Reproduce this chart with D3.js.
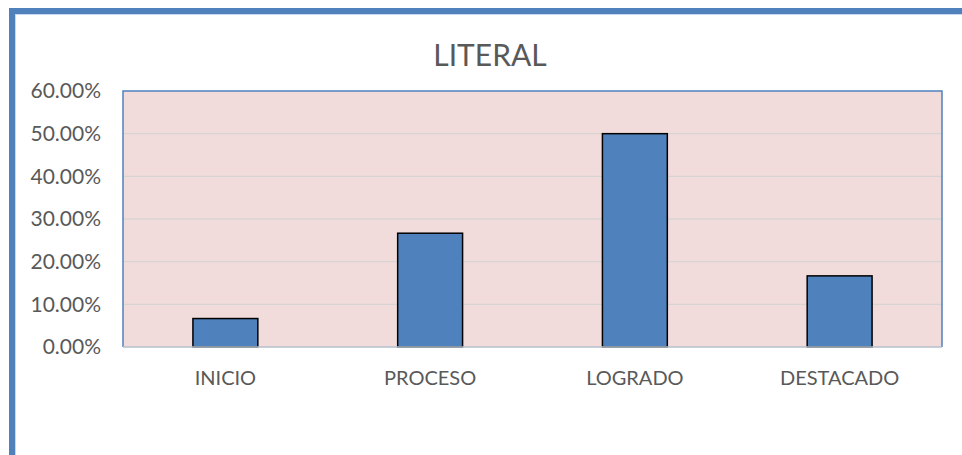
<!DOCTYPE html>
<html>
<head>
<meta charset="utf-8">
<script src="https://cdn.jsdelivr.net/npm/d3@7"></script>
<style>
  html, body { margin: 0; padding: 0; background: #fff; }
  svg { display: block; font-family: Lato, "Open Sans", sans-serif; }
</style>
</head>
<body>
<div id="chart"></div>
<script>
const WIDTH = 962;
const HEIGHT = 455;

const categories = ["INICIO", "PROCESO", "LOGRADO", "DESTACADO"];
const values = [0.0667, 0.2667, 0.5, 0.1667];
const yTicks = [0, 0.1, 0.2, 0.3, 0.4, 0.5, 0.6];
const chartTitle = "LITERAL";

const plot = { left: 123, right: 942, top: 91, bottom: 347 };

const svg = d3.select("#chart")
  .append("svg")
  .attr("width", WIDTH)
  .attr("height", HEIGHT);

// outer frame, runs off the right and bottom edges
svg.append("rect")
  .attr("x", 12)
  .attr("y", 11)
  .attr("width", 1100)
  .attr("height", 600)
  .attr("fill", "none")
  .attr("stroke", "#4f81bd")
  .attr("stroke-width", 6);

svg.append("rect")
  .attr("x", 15.5)
  .attr("y", 14.5)
  .attr("width", 1100)
  .attr("height", 600)
  .attr("fill", "none")
  .attr("stroke", "#c9d8ee")
  .attr("stroke-width", 1);

const x = d3.scaleBand()
  .domain(categories)
  .range([plot.left, plot.right])
  .paddingInner(0.683)
  .paddingOuter(0.3415);

const y = d3.scaleLinear()
  .domain([0, 0.6])
  .range([plot.bottom, plot.top]);

svg.append("rect")
  .attr("x", plot.left)
  .attr("y", plot.top)
  .attr("width", plot.right - plot.left)
  .attr("height", plot.bottom - plot.top)
  .attr("fill", "#f2dcdb");

// gridlines
svg.append("g")
  .selectAll("line")
  .data(yTicks.filter((d) => d > 0 && d < 0.6))
  .join("line")
  .attr("x1", plot.left)
  .attr("x2", plot.right)
  .attr("y1", (d) => y(d))
  .attr("y2", (d) => y(d))
  .attr("stroke", "#d8d4d4")
  .attr("stroke-width", 1.3);

// plot border (top, left, right)
svg.append("path")
  .attr("d", `M${plot.left},${plot.bottom}V${plot.top}H${plot.right}V${plot.bottom}`)
  .attr("fill", "none")
  .attr("stroke", "#4f81bd")
  .attr("stroke-width", 1.5);

svg.append("g")
  .selectAll("rect")
  .data(categories)
  .join("rect")
  .attr("x", (d) => x(d))
  .attr("y", (d, i) => y(values[i]))
  .attr("width", x.bandwidth())
  .attr("height", (d, i) => y(0) - y(values[i]))
  .attr("fill", "#4f81bd")
  .attr("stroke", "#000")
  .attr("stroke-width", 1.5);

// x axis line
svg.append("line")
  .attr("x1", plot.left)
  .attr("x2", plot.right)
  .attr("y1", plot.bottom)
  .attr("y2", plot.bottom)
  .attr("stroke", "#b4bfcc")
  .attr("stroke-width", 1.5);

const yAxis = svg.append("g")
  .attr("transform", `translate(${plot.left},0)`)
  .call(d3.axisLeft(y).tickValues(yTicks).tickFormat(d3.format(".2%")).tickSize(0).tickPadding(22));
yAxis.select(".domain").remove();
yAxis.selectAll("text")
  .attr("fill", "#595959")
  .style("font-size", "21px")
  .style("font-family", "Lato, sans-serif");

const xAxis = svg.append("g")
  .attr("transform", `translate(0,${plot.bottom})`)
  .call(d3.axisBottom(x).tickSize(0).tickPadding(24));
xAxis.select(".domain").remove();
xAxis.selectAll("text")
  .attr("fill", "#595959")
  .style("font-size", "20px")
  .style("font-family", "Lato, sans-serif");

svg.append("text")
  .attr("x", 490)
  .attr("y", 66)
  .attr("text-anchor", "middle")
  .attr("fill", "#595959")
  .style("font-size", "30px")
  .text(chartTitle);
</script>
</body>
</html>
